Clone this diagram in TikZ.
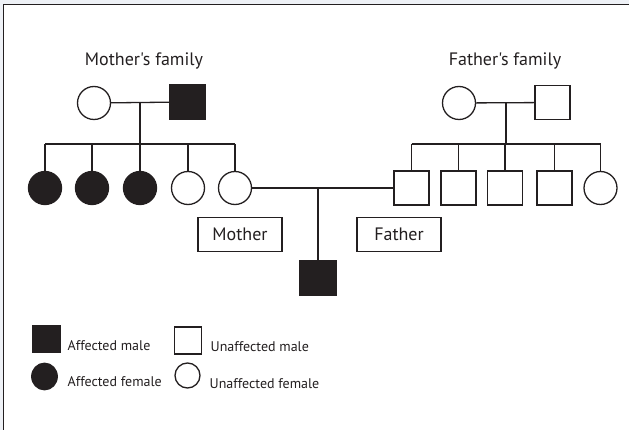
\documentclass[tikz,border=0pt]{standalone}
\usepackage{fontspec}
\newfontfamily\pedfont{PT Sans}
\usetikzlibrary{shapes.geometric}
\definecolor{ink}{RGB}{35,31,32}
\definecolor{pagegray}{RGB}{238,241,246}
\begin{document}
\begin{tikzpicture}[x=1pt,y=-1pt,line width=1.3pt,draw=ink]
\tikzstyle{every node}+=[inner sep=0pt,text=ink]
\tikzstyle{female}=[draw=ink,circle,minimum size=33pt]
\tikzstyle{male}=[draw=ink,rectangle,minimum width=35pt,minimum height=34pt]
\tikzstyle{affected}=[fill=ink]
\tikzstyle{namebox}=[draw=ink,rectangle,minimum width=84pt,minimum height=34pt,font=\pedfont\fontsize{18}{21}\selectfont]
\tikzstyle{heading}=[font=\pedfont\fontsize{18}{21}\selectfont]
\tikzstyle{key}=[anchor=west,font=\pedfont\fontsize{14}{17}\selectfont]

\useasboundingbox (0,0) rectangle (629,430);
\fill [pagegray] (0,0) rectangle (629,430);
\fill [white] (3.5,4.5) rectangle (629,430);
\draw (3.5,430) -- (3.5,4.5) -- (629,4.5);

% mother's side
\node [heading] (mhead) at (144,61) {Mother's family};
\node [female] (mgm) at (94,103) {};
\node [male,affected] (mgf) at (187.5,102) {};
\draw (mgm) -- (mgf);
\coordinate (mjoin) at (140,103);
\coordinate (msib) at (140,144);
\draw (mjoin) -- (msib);
\node [female,affected] (m1) at (45,188) {};
\node [female,affected] (m2) at (92,188) {};
\node [female,affected] (m3) at (140,188) {};
\node [female] (m4) at (188,188) {};
\node [female] (m5) at (235,188) {};
\draw (m1 |- msib) -- (m5 |- msib);
\foreach \i in {1,...,5}
  \draw (m\i |- msib) -- (m\i.north);

% father's side
\node [heading] (fhead) at (505,61) {Father's family};
\node [female] (pgm) at (459,103) {};
\node [male] (pgf) at (552.5,102.5) {};
\draw (pgm) -- (pgf);
\coordinate (fjoin) at (506,103);
\coordinate (fsib) at (506,144);
\draw (fjoin) -- (fsib);
\node [male] (f1) at (411.5,188) {};
\node [male] (f2) at (458.5,188) {};
\node [male] (f3) at (505,188) {};
\node [male] (f4) at (554.5,188) {};
\node [female] (f5) at (600.5,188) {};
\draw (f1 |- fsib) -- (f5 |- fsib);
\foreach \i in {1,...,5}
  \draw (f\i |- fsib) -- (f\i.north);

% parents and child
\draw (m5) -- (f1);
\coordinate (cjoin) at (318,188);
\node [male,affected,minimum width=36pt] (child) at (318,278) {};
\draw (cjoin) -- (child);
\node [namebox] (mother) at (240,234.5) {Mother};
\node [namebox] (father) at (399,234.5) {Father};

% key
\node [male,affected,minimum width=28pt,minimum height=27pt] (kam) at (46.5,339) {};
\node [key] (kamtext) at (67,346) {Affected male};
\node [male,minimum width=27pt,minimum height=27pt] (kum) at (188,340.5) {};
\node [key] (kumtext) at (210,347) {Unaffected male};
\node [affected,draw=ink,ellipse,minimum width=25.5pt,minimum height=26.5pt] (kaf) at (44.5,376.5) {};
\node [key] (kaftext) at (67,382) {Affected female};
\node [female,minimum size=25pt] (kuf) at (187.5,375.5) {};
\node [key] (kuftext) at (209,383.5) {Unaffected female};
\end{tikzpicture}
\end{document}
